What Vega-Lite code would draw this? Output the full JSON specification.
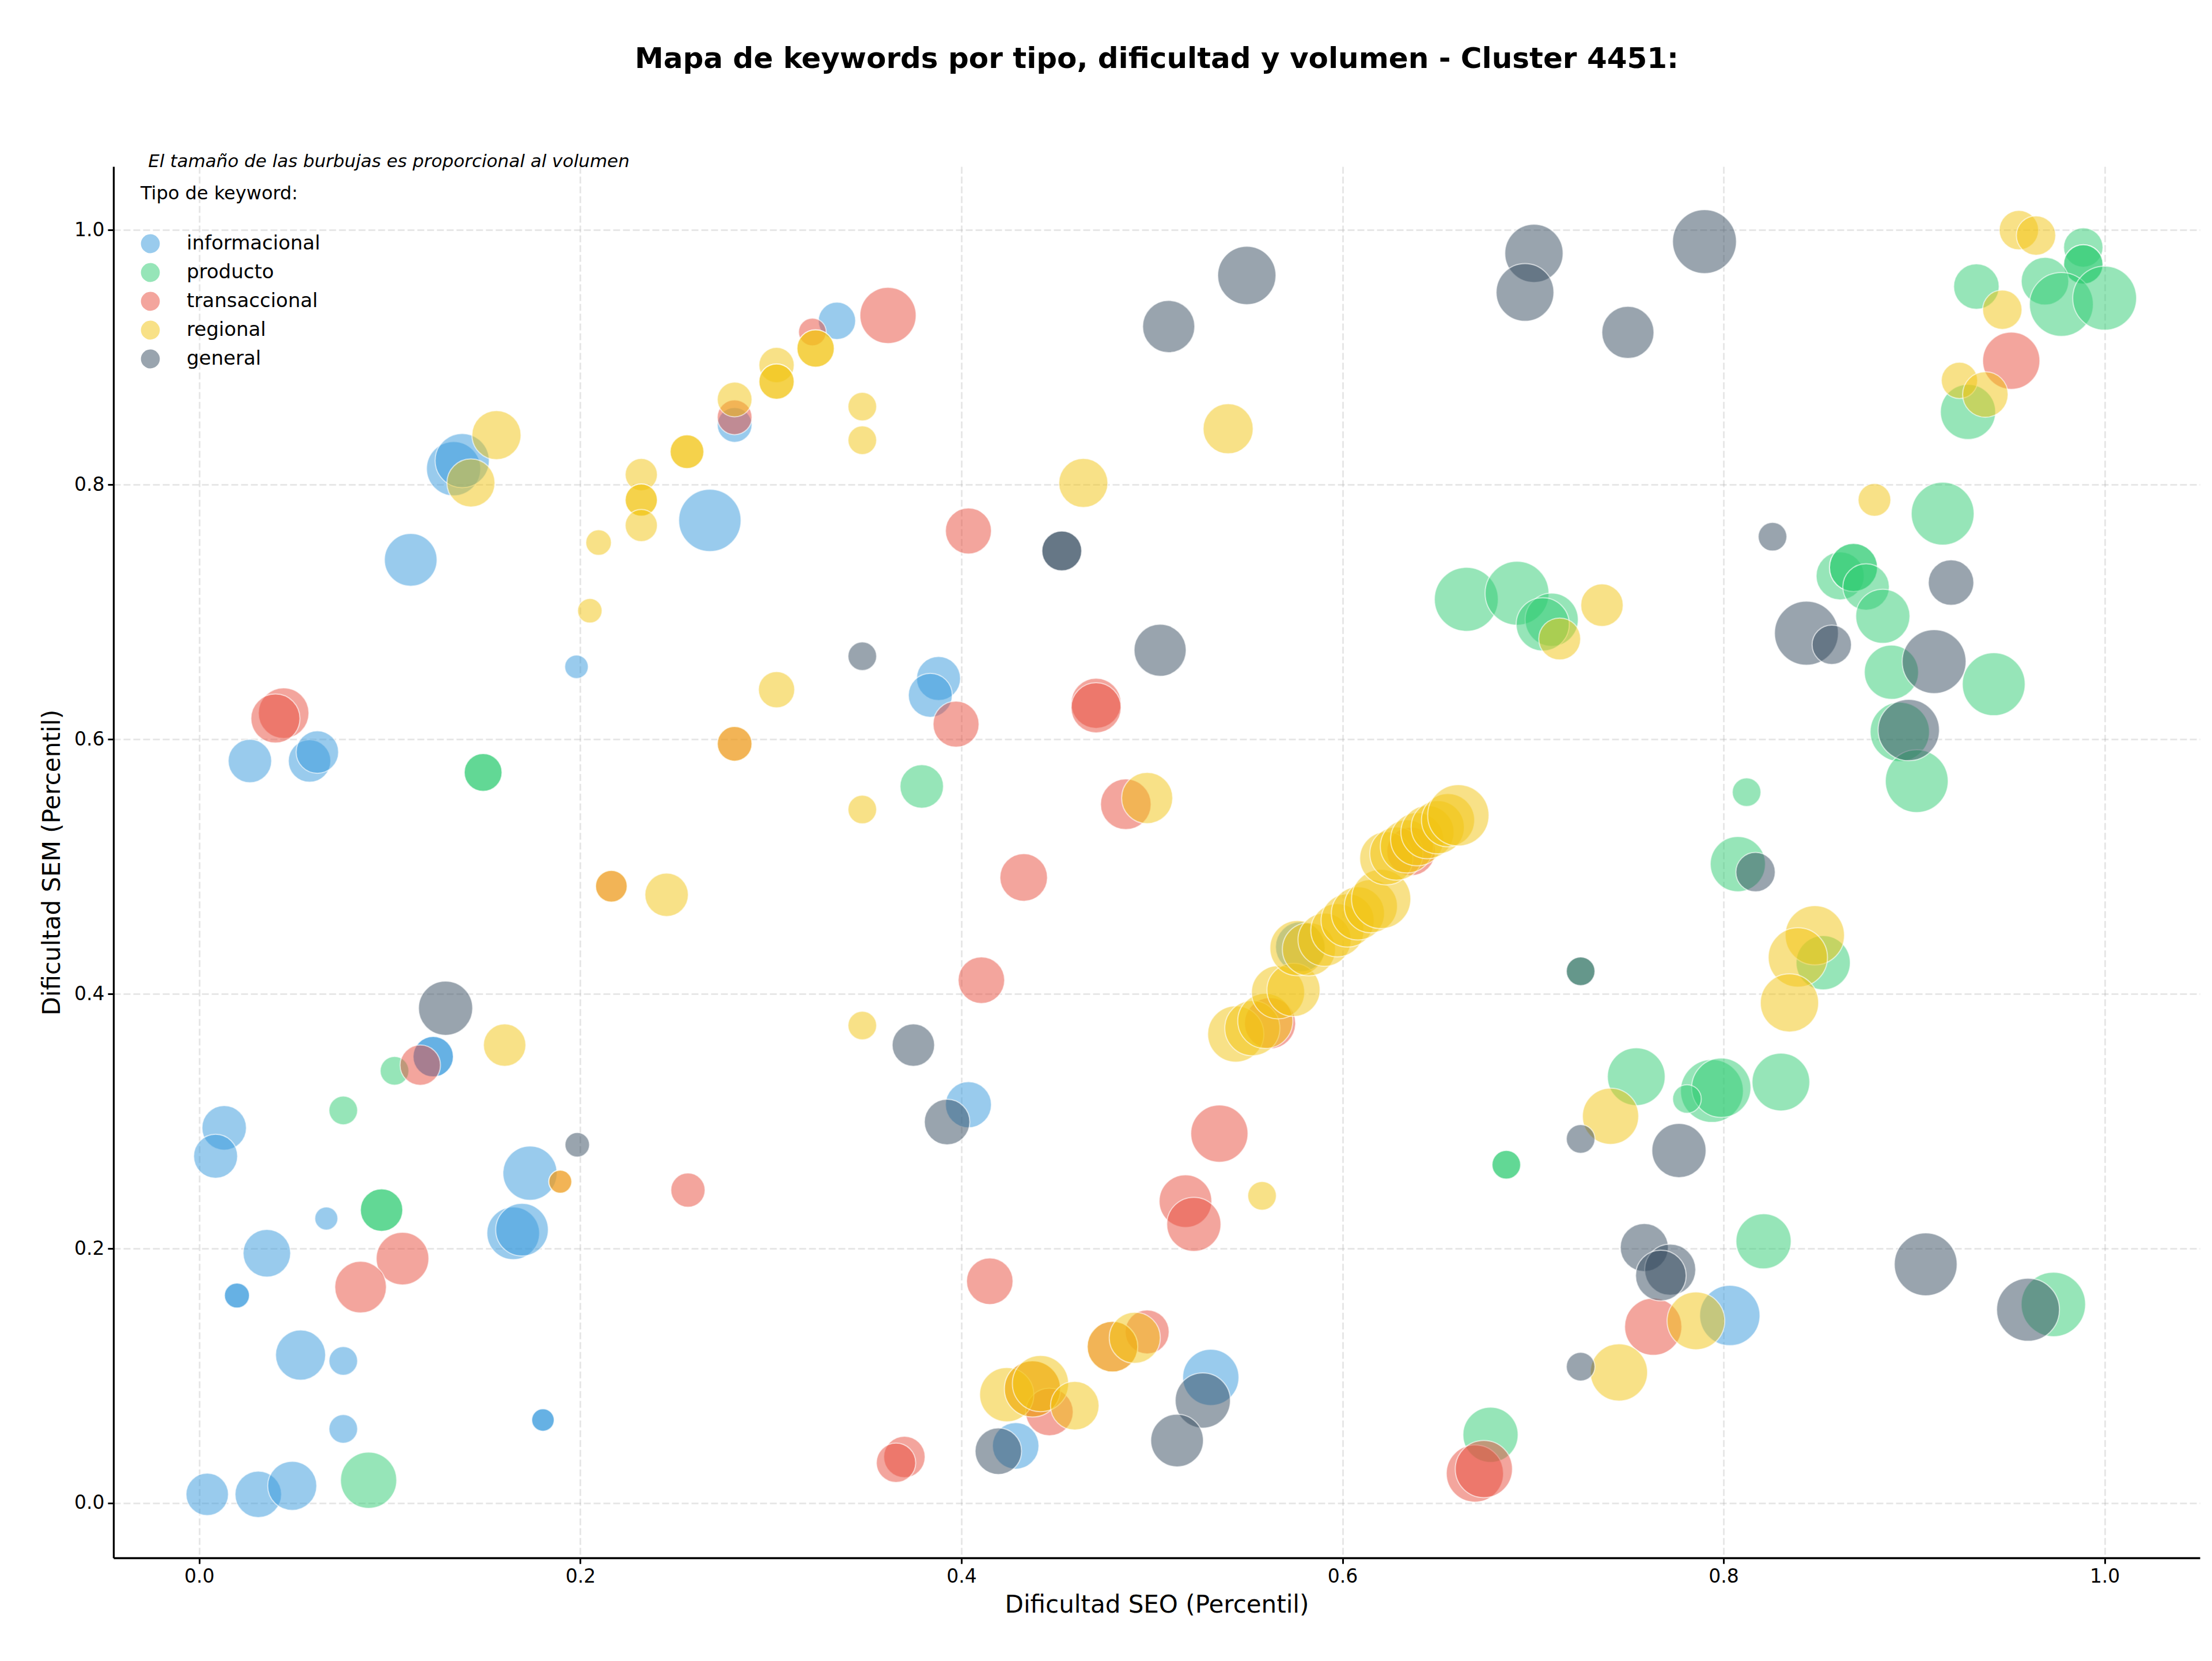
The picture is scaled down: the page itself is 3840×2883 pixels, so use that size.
{
  "$schema": "https://vega.github.io/schema/vega-lite/v6.json",
  "width": 3622,
  "height": 2415,
  "autosize": {"type": "none"},
  "padding": {"left": 197, "top": 289, "right": 21, "bottom": 179},
  "background": "white",
  "title": {
    "text": "Mapa de keywords por tipo, dificultad y volumen - Cluster 4451:",
    "fontSize": 50,
    "fontWeight": "bold",
    "font": "DejaVu Sans",
    "color": "black",
    "anchor": "middle",
    "frame": "group",
    "offset": 137
  },
  "datasets": {
    "keywords": [
      {"tipo":"informacional","seo":0.3347,"sem":0.9288,"volumen":533},
      {"tipo":"informacional","seo":0.281,"sem":0.847,"volumen":462},
      {"tipo":"informacional","seo":0.268,"sem":0.772,"volumen":1488},
      {"tipo":"informacional","seo":0.198,"sem":0.657,"volumen":212},
      {"tipo":"informacional","seo":0.111,"sem":0.741,"volumen":1061},
      {"tipo":"informacional","seo":0.1335,"sem":0.8126,"volumen":1124},
      {"tipo":"informacional","seo":0.138,"sem":0.819,"volumen":1124},
      {"tipo":"informacional","seo":0.0266,"sem":0.583,"volumen":723},
      {"tipo":"informacional","seo":0.0579,"sem":0.583,"volumen":689},
      {"tipo":"informacional","seo":0.062,"sem":0.590,"volumen":689},
      {"tipo":"informacional","seo":0.388,"sem":0.6478,"volumen":740},
      {"tipo":"informacional","seo":0.3837,"sem":0.6346,"volumen":740},
      {"tipo":"informacional","seo":0.1228,"sem":0.3507,"volumen":624},
      {"tipo":"informacional","seo":0.1228,"sem":0.3507,"volumen":624},
      {"tipo":"informacional","seo":0.0131,"sem":0.2948,"volumen":757},
      {"tipo":"informacional","seo":0.0086,"sem":0.2725,"volumen":740},
      {"tipo":"informacional","seo":0.1736,"sem":0.2592,"volumen":1124},
      {"tipo":"informacional","seo":0.0667,"sem":0.2236,"volumen":203},
      {"tipo":"informacional","seo":0.0355,"sem":0.1963,"volumen":865},
      {"tipo":"informacional","seo":0.1648,"sem":0.212,"volumen":1061},
      {"tipo":"informacional","seo":0.1694,"sem":0.2148,"volumen":1061},
      {"tipo":"informacional","seo":0.0198,"sem":0.1631,"volumen":240},
      {"tipo":"informacional","seo":0.0198,"sem":0.1631,"volumen":240},
      {"tipo":"informacional","seo":0.0532,"sem":0.1163,"volumen":960},
      {"tipo":"informacional","seo":0.0756,"sem":0.1117,"volumen":314},
      {"tipo":"informacional","seo":0.0756,"sem":0.0583,"volumen":314},
      {"tipo":"informacional","seo":0.1804,"sem":0.0653,"volumen":194},
      {"tipo":"informacional","seo":0.1804,"sem":0.0653,"volumen":194},
      {"tipo":"informacional","seo":0.0042,"sem":0.0069,"volumen":689},
      {"tipo":"informacional","seo":0.031,"sem":0.0069,"volumen":828},
      {"tipo":"informacional","seo":0.0488,"sem":0.0136,"volumen":922},
      {"tipo":"informacional","seo":0.4037,"sem":0.313,"volumen":810},
      {"tipo":"informacional","seo":0.5309,"sem":0.0988,"volumen":1210},
      {"tipo":"informacional","seo":0.4285,"sem":0.045,"volumen":828},
      {"tipo":"informacional","seo":0.8033,"sem":0.1474,"volumen":1392},
      {"tipo":"informacional","seo":0.578,"sem":0.437,"volumen":960},

      {"tipo":"producto","seo":0.149,"sem":0.574,"volumen":548},
      {"tipo":"producto","seo":0.149,"sem":0.574,"volumen":548},
      {"tipo":"producto","seo":0.3792,"sem":0.563,"volumen":723},
      {"tipo":"producto","seo":0.665,"sem":0.710,"volumen":1563},
      {"tipo":"producto","seo":0.9888,"sem":0.9864,"volumen":593},
      {"tipo":"producto","seo":0.9888,"sem":0.9731,"volumen":593},
      {"tipo":"producto","seo":0.9888,"sem":0.9731,"volumen":593},
      {"tipo":"producto","seo":0.9687,"sem":0.9599,"volumen":865},
      {"tipo":"producto","seo":0.9773,"sem":0.9417,"volumen":1563},
      {"tipo":"producto","seo":1.0,"sem":0.9466,"volumen":1563},
      {"tipo":"producto","seo":0.9327,"sem":0.9557,"volumen":792},
      {"tipo":"producto","seo":0.9283,"sem":0.8572,"volumen":1166},
      {"tipo":"producto","seo":0.915,"sem":0.7773,"volumen":1513},
      {"tipo":"producto","seo":0.8612,"sem":0.7284,"volumen":884},
      {"tipo":"producto","seo":0.8682,"sem":0.735,"volumen":884},
      {"tipo":"producto","seo":0.8682,"sem":0.735,"volumen":884},
      {"tipo":"producto","seo":0.8748,"sem":0.7197,"volumen":828},
      {"tipo":"producto","seo":0.8836,"sem":0.6967,"volumen":1124},
      {"tipo":"producto","seo":0.8881,"sem":0.6527,"volumen":1124},
      {"tipo":"producto","seo":0.9418,"sem":0.6433,"volumen":1513},
      {"tipo":"producto","seo":0.8925,"sem":0.6059,"volumen":1346},
      {"tipo":"producto","seo":0.9014,"sem":0.5672,"volumen":1513},
      {"tipo":"producto","seo":0.8121,"sem":0.5585,"volumen":314},
      {"tipo":"producto","seo":0.6916,"sem":0.7148,"volumen":1563},
      {"tipo":"producto","seo":0.7098,"sem":0.694,"volumen":1082},
      {"tipo":"producto","seo":0.7051,"sem":0.6904,"volumen":1082},
      {"tipo":"producto","seo":0.1025,"sem":0.3396,"volumen":314},
      {"tipo":"producto","seo":0.0756,"sem":0.3085,"volumen":314},
      {"tipo":"producto","seo":0.0957,"sem":0.2302,"volumen":689},
      {"tipo":"producto","seo":0.0957,"sem":0.2302,"volumen":689},
      {"tipo":"producto","seo":0.0889,"sem":0.018,"volumen":1210},
      {"tipo":"producto","seo":0.8075,"sem":0.502,"volumen":1166},
      {"tipo":"producto","seo":0.8523,"sem":0.4245,"volumen":1124},
      {"tipo":"producto","seo":0.725,"sem":0.4178,"volumen":314},
      {"tipo":"producto","seo":0.7542,"sem":0.335,"volumen":1277},
      {"tipo":"producto","seo":0.686,"sem":0.2658,"volumen":314},
      {"tipo":"producto","seo":0.686,"sem":0.2658,"volumen":314},
      {"tipo":"producto","seo":0.7939,"sem":0.3238,"volumen":1513},
      {"tipo":"producto","seo":0.7988,"sem":0.3263,"volumen":1346},
      {"tipo":"producto","seo":0.7808,"sem":0.3175,"volumen":314},
      {"tipo":"producto","seo":0.8301,"sem":0.3308,"volumen":1277},
      {"tipo":"producto","seo":0.821,"sem":0.2057,"volumen":1166},
      {"tipo":"producto","seo":0.9731,"sem":0.1561,"volumen":1588},
      {"tipo":"producto","seo":0.6777,"sem":0.0537,"volumen":1166},

      {"tipo":"transaccional","seo":0.3218,"sem":0.92,"volumen":292},
      {"tipo":"transaccional","seo":0.3615,"sem":0.933,"volumen":1210},
      {"tipo":"transaccional","seo":0.281,"sem":0.853,"volumen":462},
      {"tipo":"transaccional","seo":0.281,"sem":0.5965,"volumen":462},
      {"tipo":"transaccional","seo":0.0443,"sem":0.6206,"volumen":980},
      {"tipo":"transaccional","seo":0.040,"sem":0.6164,"volumen":922},
      {"tipo":"transaccional","seo":0.4037,"sem":0.7637,"volumen":810},
      {"tipo":"transaccional","seo":0.3972,"sem":0.6119,"volumen":810},
      {"tipo":"transaccional","seo":0.4707,"sem":0.6283,"volumen":960},
      {"tipo":"transaccional","seo":0.4707,"sem":0.6248,"volumen":960},
      {"tipo":"transaccional","seo":0.4863,"sem":0.549,"volumen":980},
      {"tipo":"transaccional","seo":0.2163,"sem":0.4846,"volumen":384},
      {"tipo":"transaccional","seo":0.116,"sem":0.3441,"volumen":624},
      {"tipo":"transaccional","seo":0.1895,"sem":0.2525,"volumen":203},
      {"tipo":"transaccional","seo":0.2565,"sem":0.2459,"volumen":449},
      {"tipo":"transaccional","seo":0.1067,"sem":0.1921,"volumen":1061},
      {"tipo":"transaccional","seo":0.0847,"sem":0.1697,"volumen":1020},
      {"tipo":"transaccional","seo":0.4327,"sem":0.4915,"volumen":865},
      {"tipo":"transaccional","seo":0.4105,"sem":0.4108,"volumen":828},
      {"tipo":"transaccional","seo":0.5354,"sem":0.2903,"volumen":1254},
      {"tipo":"transaccional","seo":0.5176,"sem":0.2372,"volumen":1061},
      {"tipo":"transaccional","seo":0.522,"sem":0.219,"volumen":1124},
      {"tipo":"transaccional","seo":0.4149,"sem":0.1743,"volumen":828},
      {"tipo":"transaccional","seo":0.4975,"sem":0.1345,"volumen":740},
      {"tipo":"transaccional","seo":0.4793,"sem":0.1229,"volumen":980},
      {"tipo":"transaccional","seo":0.4373,"sem":0.0897,"volumen":1210},
      {"tipo":"transaccional","seo":0.4462,"sem":0.0716,"volumen":865},
      {"tipo":"transaccional","seo":0.3701,"sem":0.0363,"volumen":656},
      {"tipo":"transaccional","seo":0.3657,"sem":0.0317,"volumen":593},
      {"tipo":"transaccional","seo":0.6695,"sem":0.0233,"volumen":1254},
      {"tipo":"transaccional","seo":0.6742,"sem":0.0268,"volumen":1254},
      {"tipo":"transaccional","seo":0.562,"sem":0.377,"volumen":1000},
      {"tipo":"transaccional","seo":0.636,"sem":0.512,"volumen":900},
      {"tipo":"transaccional","seo":0.951,"sem":0.8974,"volumen":1254},
      {"tipo":"transaccional","seo":0.7631,"sem":0.1386,"volumen":1254},

      {"tipo":"regional","seo":0.3235,"sem":0.907,"volumen":533},
      {"tipo":"regional","seo":0.3235,"sem":0.907,"volumen":533},
      {"tipo":"regional","seo":0.303,"sem":0.894,"volumen":476},
      {"tipo":"regional","seo":0.303,"sem":0.881,"volumen":476},
      {"tipo":"regional","seo":0.303,"sem":0.881,"volumen":476},
      {"tipo":"regional","seo":0.281,"sem":0.867,"volumen":462},
      {"tipo":"regional","seo":0.256,"sem":0.826,"volumen":436},
      {"tipo":"regional","seo":0.256,"sem":0.826,"volumen":436},
      {"tipo":"regional","seo":0.232,"sem":0.808,"volumen":397},
      {"tipo":"regional","seo":0.232,"sem":0.788,"volumen":397},
      {"tipo":"regional","seo":0.232,"sem":0.788,"volumen":397},
      {"tipo":"regional","seo":0.232,"sem":0.768,"volumen":397},
      {"tipo":"regional","seo":0.2096,"sem":0.7546,"volumen":250},
      {"tipo":"regional","seo":0.205,"sem":0.701,"volumen":230},
      {"tipo":"regional","seo":0.156,"sem":0.839,"volumen":922},
      {"tipo":"regional","seo":0.1426,"sem":0.8014,"volumen":884},
      {"tipo":"regional","seo":0.303,"sem":0.639,"volumen":504},
      {"tipo":"regional","seo":0.281,"sem":0.5965,"volumen":462},
      {"tipo":"regional","seo":0.348,"sem":0.8614,"volumen":314},
      {"tipo":"regional","seo":0.348,"sem":0.835,"volumen":314},
      {"tipo":"regional","seo":0.464,"sem":0.8014,"volumen":922},
      {"tipo":"regional","seo":0.540,"sem":0.844,"volumen":960},
      {"tipo":"regional","seo":0.348,"sem":0.5449,"volumen":314},
      {"tipo":"regional","seo":0.4975,"sem":0.5539,"volumen":1000},
      {"tipo":"regional","seo":0.955,"sem":1.0,"volumen":593},
      {"tipo":"regional","seo":0.964,"sem":0.9958,"volumen":593},
      {"tipo":"regional","seo":0.9463,"sem":0.9375,"volumen":593},
      {"tipo":"regional","seo":0.9238,"sem":0.882,"volumen":504},
      {"tipo":"regional","seo":0.9374,"sem":0.8709,"volumen":792},
      {"tipo":"regional","seo":0.8792,"sem":0.7881,"volumen":410},
      {"tipo":"regional","seo":0.7362,"sem":0.7054,"volumen":689},
      {"tipo":"regional","seo":0.714,"sem":0.6789,"volumen":672},
      {"tipo":"regional","seo":0.2163,"sem":0.4846,"volumen":384},
      {"tipo":"regional","seo":0.2453,"sem":0.4779,"volumen":723},
      {"tipo":"regional","seo":0.1603,"sem":0.3598,"volumen":689},
      {"tipo":"regional","seo":0.1895,"sem":0.2525,"volumen":203},
      {"tipo":"regional","seo":0.348,"sem":0.3752,"volumen":314},
      {"tipo":"regional","seo":0.5578,"sem":0.2414,"volumen":314},
      {"tipo":"regional","seo":0.4793,"sem":0.1229,"volumen":980},
      {"tipo":"regional","seo":0.491,"sem":0.1299,"volumen":1000},
      {"tipo":"regional","seo":0.4238,"sem":0.0852,"volumen":1124},
      {"tipo":"regional","seo":0.4373,"sem":0.0897,"volumen":1210},
      {"tipo":"regional","seo":0.4415,"sem":0.0939,"volumen":1210},
      {"tipo":"regional","seo":0.4595,"sem":0.0765,"volumen":903},
      {"tipo":"regional","seo":0.8479,"sem":0.4461,"volumen":1346},
      {"tipo":"regional","seo":0.839,"sem":0.4287,"volumen":1346},
      {"tipo":"regional","seo":0.8346,"sem":0.393,"volumen":1300},
      {"tipo":"regional","seo":0.7407,"sem":0.3039,"volumen":1210},
      {"tipo":"regional","seo":0.7855,"sem":0.1432,"volumen":1277},
      {"tipo":"regional","seo":0.7451,"sem":0.1027,"volumen":1254},
      {"tipo":"regional","seo":0.544,"sem":0.3685,"volumen":1210},
      {"tipo":"regional","seo":0.5527,"sem":0.3731,"volumen":1166},
      {"tipo":"regional","seo":0.5595,"sem":0.3788,"volumen":1166},
      {"tipo":"regional","seo":0.5662,"sem":0.4013,"volumen":1082},
      {"tipo":"regional","seo":0.5743,"sem":0.4032,"volumen":1082},
      {"tipo":"regional","seo":0.5764,"sem":0.436,"volumen":1166},
      {"tipo":"regional","seo":0.5824,"sem":0.4351,"volumen":1082},
      {"tipo":"regional","seo":0.5906,"sem":0.4426,"volumen":1082},
      {"tipo":"regional","seo":0.5973,"sem":0.450,"volumen":1082},
      {"tipo":"regional","seo":0.6027,"sem":0.4577,"volumen":1082},
      {"tipo":"regional","seo":0.6081,"sem":0.4633,"volumen":1082},
      {"tipo":"regional","seo":0.6149,"sem":0.4689,"volumen":1082},
      {"tipo":"regional","seo":0.6203,"sem":0.4746,"volumen":1346},
      {"tipo":"regional","seo":0.623,"sem":0.5065,"volumen":1082},
      {"tipo":"regional","seo":0.6283,"sem":0.5102,"volumen":1082},
      {"tipo":"regional","seo":0.6338,"sem":0.5159,"volumen":1082},
      {"tipo":"regional","seo":0.6392,"sem":0.5215,"volumen":1082},
      {"tipo":"regional","seo":0.6446,"sem":0.5271,"volumen":1082},
      {"tipo":"regional","seo":0.65,"sem":0.5309,"volumen":1082},
      {"tipo":"regional","seo":0.6554,"sem":0.5365,"volumen":1082},
      {"tipo":"regional","seo":0.6608,"sem":0.5403,"volumen":1440},

      {"tipo":"general","seo":0.5088,"sem":0.9243,"volumen":1040},
      {"tipo":"general","seo":0.5498,"sem":0.9644,"volumen":1300},
      {"tipo":"general","seo":0.4527,"sem":0.748,"volumen":608},
      {"tipo":"general","seo":0.4527,"sem":0.748,"volumen":608},
      {"tipo":"general","seo":0.348,"sem":0.6653,"volumen":314},
      {"tipo":"general","seo":0.5043,"sem":0.670,"volumen":1040},
      {"tipo":"general","seo":0.7005,"sem":0.9818,"volumen":1300},
      {"tipo":"general","seo":0.6958,"sem":0.9511,"volumen":1277},
      {"tipo":"general","seo":0.79,"sem":0.991,"volumen":1563},
      {"tipo":"general","seo":0.7498,"sem":0.9197,"volumen":1040},
      {"tipo":"general","seo":0.8257,"sem":0.7592,"volumen":314},
      {"tipo":"general","seo":0.9194,"sem":0.7232,"volumen":792},
      {"tipo":"general","seo":0.8435,"sem":0.6834,"volumen":1563},
      {"tipo":"general","seo":0.8568,"sem":0.6743,"volumen":593},
      {"tipo":"general","seo":0.9105,"sem":0.6611,"volumen":1563},
      {"tipo":"general","seo":0.8972,"sem":0.6073,"volumen":1440},
      {"tipo":"general","seo":0.1293,"sem":0.3888,"volumen":1124},
      {"tipo":"general","seo":0.1984,"sem":0.2815,"volumen":230},
      {"tipo":"general","seo":0.3748,"sem":0.3598,"volumen":689},
      {"tipo":"general","seo":0.3925,"sem":0.2994,"volumen":792},
      {"tipo":"general","seo":0.5267,"sem":0.0806,"volumen":1166},
      {"tipo":"general","seo":0.5132,"sem":0.0492,"volumen":1061},
      {"tipo":"general","seo":0.4194,"sem":0.0408,"volumen":828},
      {"tipo":"general","seo":0.8168,"sem":0.4957,"volumen":593},
      {"tipo":"general","seo":0.725,"sem":0.4178,"volumen":314},
      {"tipo":"general","seo":0.725,"sem":0.2861,"volumen":314},
      {"tipo":"general","seo":0.7766,"sem":0.277,"volumen":1124},
      {"tipo":"general","seo":0.7584,"sem":0.2008,"volumen":884},
      {"tipo":"general","seo":0.772,"sem":0.1834,"volumen":1000},
      {"tipo":"general","seo":0.7671,"sem":0.1788,"volumen":980},
      {"tipo":"general","seo":0.725,"sem":0.1072,"volumen":314},
      {"tipo":"general","seo":0.9061,"sem":0.1876,"volumen":1513},
      {"tipo":"general","seo":0.9598,"sem":0.1519,"volumen":1513}
    ],
    "nota": [
      {"texto": "El tamaño de las burbujas es proporcional al volumen", "seo": -0.0268, "sem": 1.0495}
    ]
  },
  "layer": [
    {
      "data": {"name": "keywords"},
      "mark": {
        "type": "circle",
        "fillOpacity": 0.5,
        "stroke": "white",
        "strokeWidth": 2,
        "strokeOpacity": 0.6
      },
      "encoding": {
        "x": {
          "field": "seo",
          "type": "quantitative",
          "scale": {"domain": [-0.045, 1.05], "nice": false, "zero": false},
          "axis": {
            "title": "Dificultad SEO (Percentil)",
            "values": [0, 0.2, 0.4, 0.6, 0.8, 1.0],
            "format": ".1f",
            "titlePadding": 12,
            "labelPadding": 6
          }
        },
        "y": {
          "field": "sem",
          "type": "quantitative",
          "scale": {"domain": [-0.043, 1.05], "nice": false, "zero": false},
          "axis": {
            "title": "Dificultad SEM (Percentil)",
            "values": [0, 0.2, 0.4, 0.6, 0.8, 1.0],
            "format": ".1f",
            "titlePadding": 16,
            "labelPadding": 6
          }
        },
        "color": {
          "field": "tipo",
          "type": "nominal",
          "scale": {
            "domain": ["informacional", "producto", "transaccional", "regional", "general"],
            "range": ["#3498db", "#2ecc71", "#e74c3c", "#f1c40f", "#34495e"]
          },
          "legend": {
            "title": "Tipo de keyword:",
            "orient": "none",
            "legendX": 47,
            "legendY": 32,
            "padding": 0,
            "titleFontSize": 32,
            "titleFontWeight": "normal",
            "titleColor": "black",
            "titlePadding": 53,
            "titleLimit": 2000,
            "labelFontSize": 34,
            "labelColor": "black",
            "labelOffset": 46,
            "labelLimit": 2000,
            "symbolSize": 1075,
            "symbolOpacity": 0.5,
            "symbolStrokeWidth": 0,
            "symbolType": "circle",
            "rowPadding": 16
          }
        },
        "size": {
          "field": "volumen",
          "type": "quantitative",
          "scale": {"type": "linear", "domain": [0, 1000], "range": [0, 7854], "zero": true},
          "legend": null
        }
      }
    },
    {
      "data": {"name": "nota"},
      "mark": {
        "type": "text",
        "align": "left",
        "baseline": "alphabetic",
        "fontStyle": "italic",
        "fontSize": 31,
        "color": "black"
      },
      "encoding": {
        "x": {"field": "seo", "type": "quantitative"},
        "y": {"field": "sem", "type": "quantitative"},
        "text": {"field": "texto"}
      }
    }
  ],
  "config": {
    "font": "DejaVu Sans",
    "view": {"stroke": null},
    "axis": {
      "labelFontSize": 33,
      "labelColor": "black",
      "titleFontSize": 42,
      "titleFontWeight": "normal",
      "titleColor": "black",
      "domainColor": "black",
      "domainWidth": 3.3,
      "tickColor": "black",
      "tickWidth": 3,
      "tickSize": 10,
      "grid": true,
      "gridColor": "#b0b0b0",
      "gridOpacity": 0.3,
      "gridWidth": 3,
      "gridDash": [12, 5]
    }
  }
}
